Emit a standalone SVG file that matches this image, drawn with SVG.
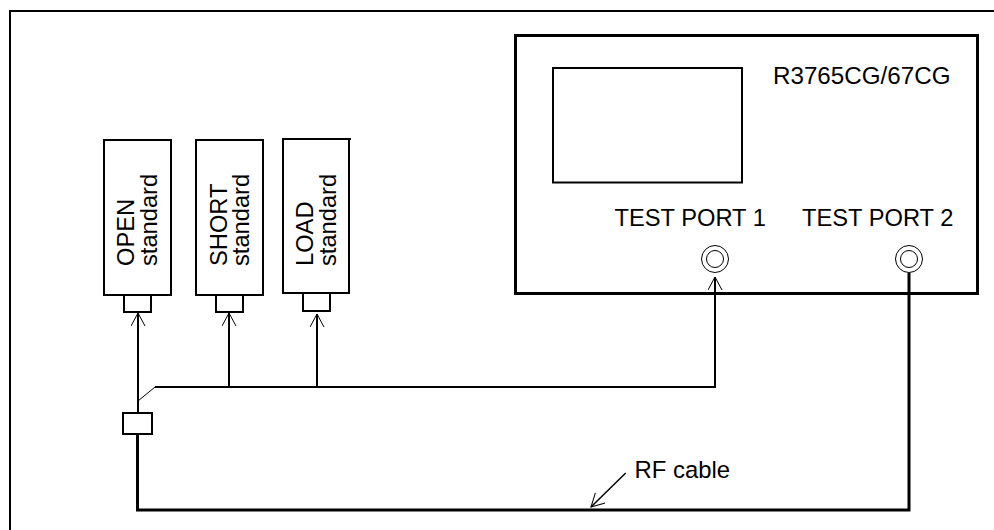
<svg xmlns="http://www.w3.org/2000/svg" width="994" height="530" viewBox="0 0 994 530">
<style>
text{font-family:"Liberation Sans",Arial,sans-serif;fill:#000;font-size:23.7px}
.b{fill:#fff;stroke:#000;stroke-width:2}
.d{fill:none;stroke:#000;stroke-width:3}
.w{fill:none;stroke:#000;stroke-width:2}
.t{fill:none;stroke:#000;stroke-width:1}
.r{fill:none;stroke:#000;stroke-width:1.5}
</style>
<defs>
<marker id="a" markerUnits="userSpaceOnUse" markerWidth="16" markerHeight="16" refX="14" refY="7.5" orient="auto"><path d="M1 0.5L14 7.5L1 14.5" fill="none" stroke="#000" stroke-width="1"/></marker>
</defs>
<rect width="994" height="530" fill="#fff"/>
<path d="M10 530V11H994" class="w"/>
<g id="device">
<rect x="515.5" y="35.5" width="462" height="258" class="d"/>
<rect x="553" y="68" width="189" height="114.5" class="b"/>
<text x="773" y="84" style="font-size:24.2px">R3765CG/67CG</text>
</g>
<g id="port1"><text x="614.5" y="226">TEST PORT 1</text><circle cx="715" cy="259" r="13.5" class="t"/><circle cx="715" cy="259" r="8.5" class="t"/></g>
<g id="port2"><text x="802" y="226">TEST PORT 2</text><circle cx="909" cy="259" r="13.5" class="t"/><circle cx="909" cy="259" r="8.5" class="t"/></g>
<g id="open"><rect x="104" y="140" width="67" height="155" class="b"/><rect x="124" y="295" width="27" height="17" class="b"/>
<text transform="translate(134 266) rotate(-90)">OPEN</text><text transform="translate(157 266) rotate(-90)">standard</text></g>
<g id="short"><rect x="196" y="140" width="67" height="155" class="b"/><rect x="216" y="295" width="27" height="17" class="b"/>
<text transform="translate(227 266) rotate(-90)">SHORT</text><text transform="translate(249 266) rotate(-90)">standard</text></g>
<g id="load"><path d="M351 139H283V293H349V139" class="b"/><rect x="303" y="293" width="27" height="18" class="b"/>
<text transform="translate(313 266) rotate(-90)">LOAD</text><text transform="translate(336 266) rotate(-90)">standard</text></g>
<g id="adapter"><rect x="123" y="413" width="29" height="21" class="b"/></g>
<g id="connectors">
<path d="M138 413V313" class="w" marker-end="url(#a)"/>
<path d="M229 387V313" class="w" marker-end="url(#a)"/>
<path d="M317 387V314" class="w" marker-end="url(#a)"/>
<path d="M155 387H715V277" class="w" marker-end="url(#a)"/>
<path d="M138 401L155 387" class="t"/>
<path d="M137.5 434V510H909V273" class="d"/>
<path d="M625.7 473L591 507" class="r" marker-end="url(#a)"/>
</g>
<text x="634.5" y="478" style="font-size:23.9px">RF cable</text>
</svg>
